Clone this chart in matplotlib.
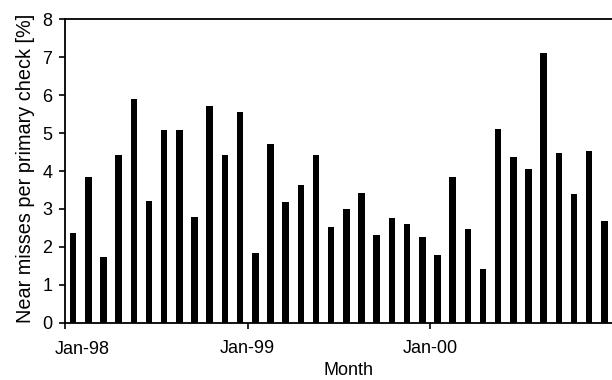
import numpy as np
import matplotlib
matplotlib.use('Agg')
import matplotlib.pyplot as plt

plt.rcParams['font.family'] = ['Liberation Sans', 'DejaVu Sans']

# monthly near-miss rate, Jan-98 .. Dec-00
rates = [2.36, 3.84, 1.72, 4.42, 5.90, 3.20, 5.09, 5.07, 2.79, 5.71, 4.43, 5.56,
         1.83, 4.70, 3.19, 3.64, 4.43, 2.53, 2.99, 3.42, 2.31, 2.77, 2.60, 2.27,
         1.78, 3.84, 2.47, 1.42, 5.12, 4.37, 4.04, 7.12, 4.47, 3.40, 4.53, 2.69]
tick_months = [0, 12, 24]
tick_labels = ['Jan-98', 'Jan-99', 'Jan-00']
yticks = list(range(0, 9))

fig = plt.figure(figsize=(6.12, 3.8), dpi=100)
ax = fig.add_axes([0.107, 0.151, 0.893, 0.798])

x = np.arange(len(rates)) + 0.5
ax.bar(x, rates, width=0.43, color='black')

ax.set_xlim(0, len(rates))
ax.set_ylim(0, 8)
ax.set_yticks(yticks)
ax.set_xticks(tick_months)
# first label is drawn by hand, shifted right of its tick
ax.set_xticklabels([''] + tick_labels[1:])
ax.annotate(tick_labels[0], xy=(tick_months[0], 0), xycoords=('data', 'axes fraction'),
            xytext=(12, -13), textcoords='offset points', ha='center', va='top', fontsize=13)

ax.spines['right'].set_visible(False)
for s in ['left', 'bottom', 'top']:
    ax.spines[s].set_linewidth(1.3)
ax.tick_params(direction='out', length=4.5, width=1.2, labelsize=13)
ax.tick_params(axis='x', pad=8)
ax.tick_params(axis='y', pad=5)

ax.set_xlabel('Month', fontsize=13, labelpad=3.5)
ax.xaxis.label.set_x(0.517)
ax.set_ylabel('Near misses per primary check [%]', fontsize=14.3, labelpad=5)
ax.yaxis.label.set_y(0.51)

fig.savefig('out.png', dpi=100)
